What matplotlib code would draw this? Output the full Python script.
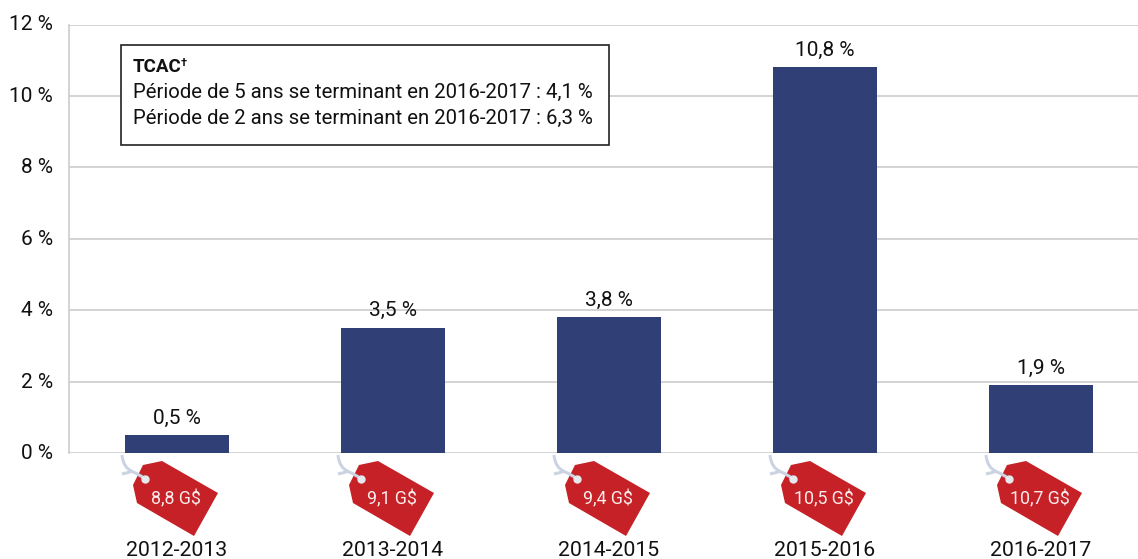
import matplotlib
matplotlib.use('Agg')
from matplotlib import pyplot as plt
from matplotlib.patches import Polygon, Rectangle, PathPatch
from matplotlib.path import Path
from matplotlib.transforms import ScaledTranslation

years = ['2012-2013', '2013-2014', '2014-2015', '2015-2016', '2016-2017']
growth = [0.5, 3.5, 3.8, 10.8, 1.9]
growth_labels = ['0,5 %', '3,5 %', '3,8 %', '10,8 %', '1,9 %']
spending_labels = ['8,8 G$', '9,1 G$', '9,4 G$', '10,5 G$', '10,7 G$']
y_ticks = [0, 2, 4, 6, 8, 10, 12]

W, H = 1138, 559
plt.rcParams['font.family'] = ['Roboto', 'DejaVu Sans']
fig = plt.figure(figsize=(W / 100, H / 100), dpi=100)
TEXT = '#111111'


def px(x, y):
    # figure fraction from pixel position, y measured from the top
    return x / W, 1 - y / H


# axes run from pixel 69 to the right edge, y=0 at 453 and y=12 at 24.5
ax = fig.add_axes([69 / W, 1 - 453 / H, (W - 69) / W, (453 - 24.5) / H])
xs = list(range(len(years)))
ax.bar(xs, growth, width=104 / 216, color='#303f75', zorder=3)
ax.set_xlim(-0.5, (W - 177) / 216)
ax.set_ylim(0, 12)

ax.set_yticks(y_ticks)
ax.set_yticklabels([f'{t} %' for t in y_ticks], fontsize=15, color=TEXT)
ax.tick_params(axis='y', length=0, pad=11.5)
shift = ScaledTranslation(0, 1.5 / 100, fig.dpi_scale_trans)
for lab in ax.get_yticklabels():
    lab.set_transform(lab.get_transform() + shift)
ax.set_xticks([])
ax.grid(axis='y', color='#cccccc', linewidth=1.2, zorder=0)
ax.set_axisbelow(True)
for s in ['top', 'right', 'bottom']:
    ax.spines[s].set_visible(False)
ax.spines['left'].set_color('#cccccc')
ax.spines['left'].set_linewidth(1.2)

for x, v, lab in zip(xs, growth, growth_labels):
    ax.annotate(lab, (x, v), xytext=(0, 5.5), textcoords='offset points',
                ha='center', va='bottom', fontsize=15, color=TEXT)

# price tags below each bar, shape given in pixels relative to the bar centre
tag = [(-34, 465), (-15, 461), (41, 493), (17, 536), (-40, 503), (-44, 485)]
for i, (yr, lab) in enumerate(zip(years, spending_labels)):
    cx = 177 + 216 * i
    fig.add_artist(Polygon([px(cx + a, b) for a, b in tag], closed=True,
                           facecolor='#c62127', edgecolor='none',
                           transform=fig.transFigure))
    string = Path([px(cx - 55, 455), px(cx - 54, 468), px(cx - 44, 472),
                   px(cx - 38, 474), px(cx - 32, 479)],
                  [Path.MOVETO, Path.CURVE3, Path.CURVE3, Path.CURVE3, Path.CURVE3])
    fig.add_artist(PathPatch(string, facecolor='none', edgecolor='#ccd3e2',
                             linewidth=2.2, transform=fig.transFigure))
    loop = Path([px(cx - 55, 474), px(cx - 50, 473), px(cx - 44, 471)],
                [Path.MOVETO, Path.CURVE3, Path.CURVE3])
    fig.add_artist(PathPatch(loop, facecolor='none', edgecolor='#ccd3e2',
                             linewidth=2.2, transform=fig.transFigure))
    hole_x, hole_y = px(cx - 32, 479)
    fig.add_artist(plt.Line2D([hole_x], [hole_y], marker='o', markersize=5,
                              color='#e6e9f0', linestyle='none',
                              transform=fig.transFigure))
    tx, ty = px(cx - 1, 499)
    fig.text(tx, ty, lab, ha='center', va='center', fontsize=12.8, color='#f9ecec')
    tx, ty = px(cx, 550)
    fig.text(tx, ty, yr, ha='center', va='center', fontsize=15.3, color=TEXT)

# note box
x0, y0 = px(121, 145)
x1, y1 = px(609, 45)
fig.add_artist(Rectangle((x0, y0), x1 - x0, y1 - y0, facecolor='white',
                         edgecolor='#222222', linewidth=1.2, zorder=5,
                         transform=fig.transFigure))
tx, ty = px(133, 67)
fig.text(tx, ty, 'TCAC', fontsize=13.5, fontweight='bold',
         va='center', color=TEXT, zorder=6)
tx, ty = px(181, 63)
fig.text(tx, ty, '\u2020', fontsize=8, fontweight='bold',
         va='center', color=TEXT, zorder=6)
tx, ty = px(133, 92)
fig.text(tx, ty, 'Période de 5 ans se terminant en 2016-2017 : 4,1 %', fontsize=14.7,
         va='center', color=TEXT, zorder=6)
tx, ty = px(133, 118)
fig.text(tx, ty, 'Période de 2 ans se terminant en 2016-2017 : 6,3 %', fontsize=14.7,
         va='center', color=TEXT, zorder=6)

fig.savefig('out.png', dpi=100)
